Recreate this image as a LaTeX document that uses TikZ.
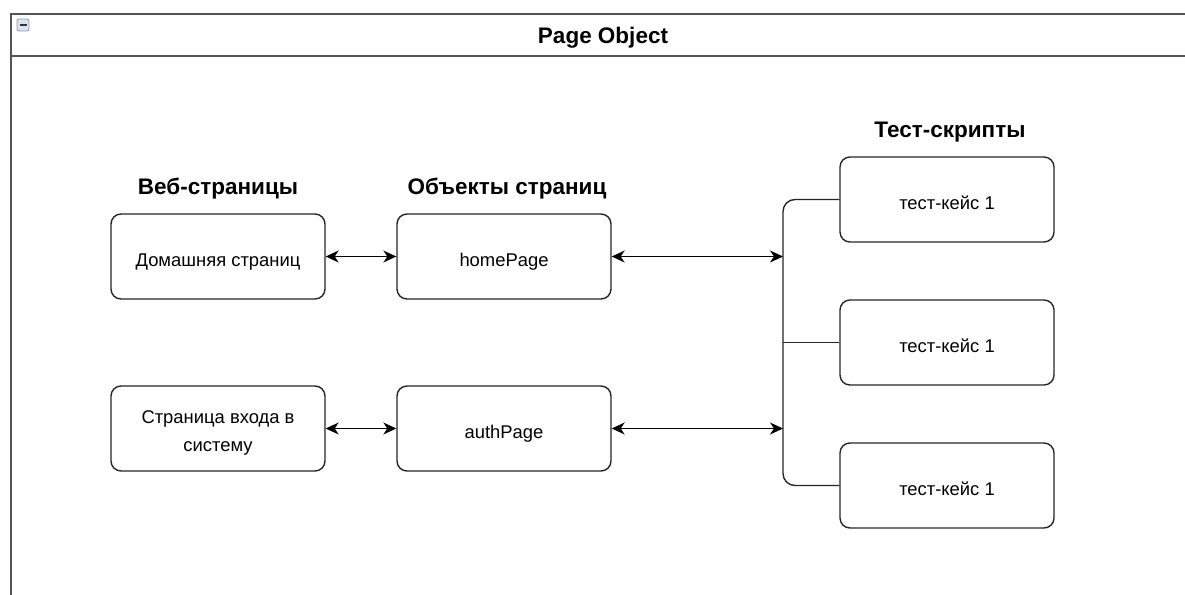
\documentclass[tikz,border=0pt]{standalone}
\usepackage{fontspec}
\setmainfont{Liberation Sans}
\usetikzlibrary{arrows.meta}

\definecolor{frameline}{HTML}{555555}
\definecolor{iconfill}{HTML}{DCE3EC}
\definecolor{iconline}{HTML}{8C9BB0}

\tikzset{
  card/.style={draw=black!85, line width=1.4pt, rounded corners=10pt, fill=white,
    minimum width=214pt, minimum height=85pt, align=center, inner sep=4pt,
    font=\fontsize{18.4}{23}\selectfont},
  oneline/.style={text height=19pt, text depth=0pt},
  heading/.style={font=\bfseries\fontsize{22.5}{26}\selectfont, inner sep=0pt,
    text height=16.2pt, text depth=0pt},
  link/.style={draw=black, line width=1.3pt},
  both/.style={link, {Stealth[length=13pt,width=12pt,inset=4pt]}-{Stealth[length=13pt,width=12pt,inset=4pt]}},
  branch/.style={draw=black!85, line width=1.4pt, rounded corners=12pt}
}

\begin{document}
\begin{tikzpicture}[x=1pt, y=-1pt]
\useasboundingbox (0,0) rectangle (1185,594);
\fill[white] (0,0) rectangle (1185,594);

% container with title bar
\draw[frameline, line width=2pt] (1195,14) -- (11,14) -- (11,604);
\draw[frameline, line width=2pt] (11,56) -- (1195,56);
\node[heading] (title) at (603,35.5) {Page Object};

% collapse icon
\draw[iconline, fill=iconfill, line width=0.8pt, rounded corners=2pt] (17,19) rectangle (29,31);
\draw[black!80, line width=1.6pt] (19.5,25) -- (26.5,25);

% column headings
\node[heading] (hweb) at (218,186) {Веб-страницы};
\node[heading] (hobj) at (507,186) {Объекты страниц};
\node[heading] (htest) at (950,129) {Тест-скрипты};

% web pages
\node[card, oneline] (home) at (218,256.5) {Домашняя страниц};
\node[card] (login) at (218,428.5) {\raisebox{-9pt}[0pt][0pt]{\begin{tabular}{@{}c@{}}Страница входа в\\[5pt]систему\end{tabular}}};

% page objects
\node[card, oneline] (homepage) at (504,256.5) {homePage};
\node[card, oneline] (authpage) at (504,428.5) {authPage};

% test cases
\node[card, oneline] (tc1) at (947,199.5) {тест-кейс 1};
\node[card, oneline] (tc2) at (947,342.5) {тест-кейс 1};
\node[card, oneline] (tc3) at (947,485.5) {тест-кейс 1};

% bracket joining the test cases
\coordinate (bus) at (783,0);
\draw[branch] (tc1.west) -- (tc1.west -| bus) -- (tc3.west -| bus) -- (tc3.west);
\draw[branch] (tc2.west -| bus) -- (tc2.west);
\coordinate (inhome) at (homepage.east -| bus);
\coordinate (inauth) at (authpage.east -| bus);

% connectors
\draw[both] (home) -- (homepage);
\draw[both] (login) -- (authpage);
\draw[both] (homepage) -- (inhome);
\draw[both] (authpage) -- (inauth);
\end{tikzpicture}
\end{document}
